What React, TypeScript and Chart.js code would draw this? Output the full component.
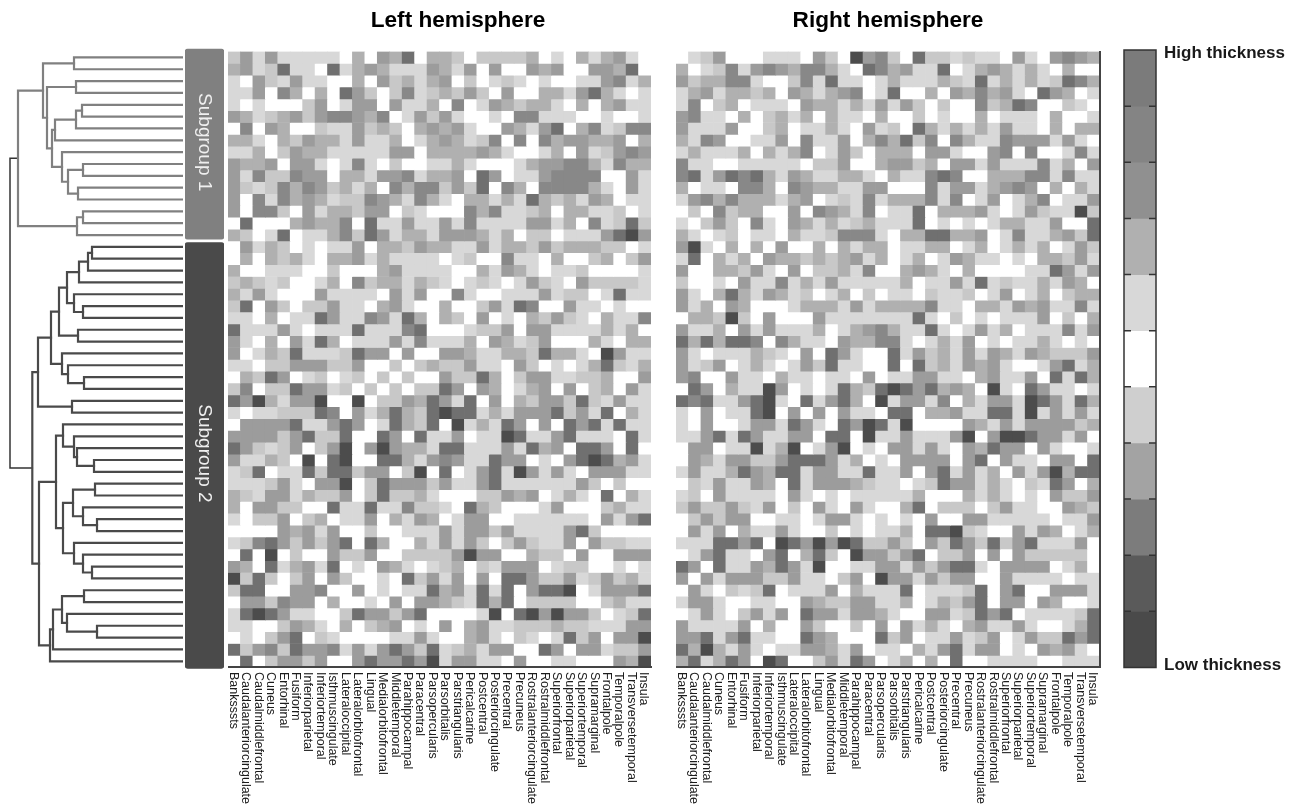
import React, { useEffect, useRef } from "react";
import Chart from "chart.js/auto";

const REGIONS = ["Banksssts","Caudalanteriorcingulate","Caudalmiddlefrontal","Cuneus","Entorhinal","Fusiform","Inferiorparietal","Inferiortemporal","Isthmuscingulate","Lateraloccipital","Lateralorbitofrontal","Lingual","Medialorbitofrontal","Middletemporal","Parahippocampal","Paracentral","Parsopercularis","Parsorbitalis","Parstriangularis","Pericalcarine","Postcentral","Posteriorcingulate","Precentral","Precuneus","Rostralanteriorcingulate","Rostralmiddlefrontal","Superiorfrontal","Superiorparietal","Superiortemporal","Supramarginal","Frontalpole","Temporalpole","Transversetemporal","Insula"];

// Shade index of every cell, one string per subject (row), one digit per region.
const LEFT_ROWS = [
"24141111103043603 32022223010313410","34126110613431114 31404004340044360","10421411003042313 40201210100114513","11405303064202512 32420400331463101",
"10100024014404113 05014323310303411","43123424554350142 41001055111001001","05043002114232034 34100431460351255","33103243314113013 43125050534433403",
"11302433111114403 33343100130412454","43340441015102001 13100013445531533","41522544033144513 34064011455550041","42125354231305355 24260530555531041",
"40515343122543153 10331316323143011","40552041332440210 00535112303311201","06000343350611411 41511114413051262","32016011352641331 44431302201114674",
"04132010114033243 31141332423332201","03032310334131111 01200511030023024","30011100200034111 10031431011200001","23212001305233132 10121014210422221",
"31410004111104140 05100111412201611","26042022411034100 30024165004110100","11030116411541630 32040103242103115","61114101116111560 00122404411113130",
"41030416301114151 11304312400031033","40132611126440400 44311332633107411","11022444224002023 22411042010136213","03264012012020200 42263024411223004",
"25022644120202022 64043013404023041","64731447007022436 41604032442621411","10112226504136326 76613144462416031","04444611464016326 07131640406461611",
"44442462260064061 14011761146111061","64212402470474331 66111416340664060","41132070670066314 54116440104676341","12601162662440270 60146174141044411",
"11124104470264442 41146111111420200","32144132240262231 00022434013106031","30442200611611522 10632000140002311","10224023011403143 01440011111104146",
"00004341400200111 41442411114620000","12564242460630031 41420242114042211","06070200422400222 24744003220400444","43061341601043101 23021444012200101",
"72620240420010624 14040664224124231","26600445004010116 34161604667014446","04425440300104044 32163602222002311","16764110026442460 00017067474420126",
"11002431030234010 40341122232211144","01024602100001141 00341021016240447","62452644514146426 12314400640441224","06024424004644647 14411040011000437",
];
const RIGHT_ROWS = [
"0124000111042074520622121104104543","3012514543553106534116013431310300","4233551002516110131113216131312653","1341332304313450160030435341064301",
"1502301110433131414202005236500210","4511030231303110300201003011103001","4111400230113104120631313141103033","3154001140511403536250531154441410",
"1311130313501420333044100450500151","5110011111022400344230441411151304","5614656314311331031156500333551511","3011055305433114400051441345403031",
"1453533313401215133351501401350114","0205233004054315011603334101421172","1024205104313123111601010133114006","3101201103112555103366334015113426",
"4710303040030313301133013013130142","1603130433232341301301431101033241","4003324104022315003431030000116414","2001041151314111113011416121131430",
"4103631431201302011021120140130233","4130430001333141333351103314341151","0332720400041111111610201011140203","4113041411130134531161014130111514",
"6363665053110433551013140101131010","4101113210406410061423141431432224","4124013101426110060623143410014613","4500411031101104011441103411406163",
"0640311740101632676463430710641101","6561146710614630714415031441764163","1040116704040411066033411661714141","1040014416410647617000043141444423",
"1146164114406607114111470477644140","0440117137014701044141043644041001","0431442246664130104444046041104406","1411364366144116114046141304147366",
"0214114306144432110126441310216403","1204111104101011111300031310104224","2422421402041041003602220241100432","0242440011014410101040044111110114",
"0414031141002010113066721004143013","1116646076474762242042642624611140","0146110460362074424602240404222220","6406114364170011441424661044440130",
"4041444224110240744142440041111011","0410212601114031116011126046004441","1441001100432244113013246044043001","0141024140644144310044126460111126",
"4111140300420020404131034114100136","4461461100643000624011412401422646","6373141011443140110314614401043410","3613640760024164013030600111100111",
];

const SHADES = ["#ffffff","#d8d8d8","#c8c8c8","#b0b0b0","#9c9c9c","#888888","#707070","#4c4c4c"];

const SUBGROUP_NAMES = ["Subgroup 1","Subgroup 2"];
const SUBGROUP_SPANS = [[-0.2,15.86],[16.13,52.1]];
const SUBGROUP_COLORS = ["#808080","#4a4a4a"];

const LEGEND_SHADES = ["#7b7b7b","#848484","#909090","#b0b0b0","#d8d8d8","#ffffff","#cfcfcf","#a3a3a3","#7c7c7c","#5a5a5a","#4a4a4a"];
const LEGEND_LABELS = ["High thickness","Low thickness"];

// Dendrogram: [merge height, child, child]; a child is a row index or another merge.
const TREE_SUB1: any = [165,
  [140,[109,0,1],[136,[107,2,3],[131,[128,[107,[101,4,5],6],7],[121,8,[115,[100,9,10],[105,11,12]]]]]],
  [106,[100,13,14],15]];
const TREE_SUB2: any = [150.7,
  [145,[132,[124,[116,[104,[95,[91,16,17],18],19],[109,20,[100,21,22]]],[105,23,24]],[121,25,[115,26,[99,27,28]]]],[111,29,30]],
  [144,[127,[120,31,[109,32,[106,33,[89,34,35]]]],[120,[110,[88,36,37],[100,38,[86,39,40]]],[109,41,[100,42,[91,43,44]]]]],
    [133,[130,[121,[99,45,46],[116,47,[86,48,49]]],50],51]]];
const ROOT_HEIGHT = 173;

const ROW_COUNT = 52;
const FONT = '"Liberation Sans", Arial, sans-serif';
const TOP = 51.5;
const BOTTOM_PAD = 805 - 667.2;

function addMerges(node: any, color: string, width: number, out: any[]): { y: number; h: number } {
  if (typeof node === "number") return { y: node + 0.5, h: 0 };
  const a = addMerges(node[1], color, width, out);
  const b = addMerges(node[2], color, width, out);
  const h = node[0];
  out.push(pathDataset(a, b, h, color, width));
  return { y: (a.y + b.y) / 2, h };
}
function pathDataset(a: any, b: any, h: number, color: string, width: number) {
  return {
    data: [{ x: a.h, y: a.y }, { x: h, y: a.y }, { x: h, y: b.y }, { x: b.h, y: b.y }],
    borderColor: color, borderWidth: width, showLine: true, pointRadius: 0, tension: 0, fill: false,
    borderCapStyle: "square", borderJoinStyle: "miter",
  };
}

function hiddenAxis(extra: any = {}) {
  return { display: false, ...extra };
}
const rowScale = { type: "linear", min: 0, max: ROW_COUNT, reverse: true };
const baseOptions = {
  responsive: false, animation: false, events: [] as string[],
  plugins: { legend: { display: false }, tooltip: { enabled: false } },
};
const edgeAxis = {
  grid: { display: false, drawTicks: false, tickLength: 0 },
  ticks: { display: false, padding: 0 },
  border: { display: true, color: "#444444", width: 2, z: 1 },
};

function heatConfig(rows: string[], title: string, titleX: number, withRightEdge: boolean, padRight: number): any {
  const datasets = rows.map((text, r) => {
    const digits = text.replace(/\s/g, "").split("").map(Number);
    return {
      data: REGIONS.map(() => [r, r + 1]),
      backgroundColor: REGIONS.map((_, c) => SHADES[digits[c] ?? 0]),
      borderWidth: 0, barPercentage: 1, categoryPercentage: 1, grouped: false,
    };
  });
  return {
    type: "bar",
    data: { labels: REGIONS, datasets },
    options: {
      ...baseOptions,
      layout: { padding: { top: TOP, bottom: BOTTOM_PAD, left: 0, right: padRight } },
      scales: {
        x: { ...edgeAxis },
        y: withRightEdge ? { ...rowScale, ...edgeAxis, position: "right" } : hiddenAxis(rowScale),
      },
    },
    plugins: [{
      id: "heatText",
      afterDraw(chart: any) {
        const { ctx, scales } = chart;
        ctx.save();
        ctx.fillStyle = "#000000";
        ctx.font = `bold 22.6px ${FONT}`;
        ctx.textAlign = "center";
        ctx.textBaseline = "middle";
        ctx.fillText(title, titleX, 21);
        ctx.fillStyle = "#1c1c1c";
        ctx.font = `12.5px ${FONT}`;
        ctx.textAlign = "left";
        REGIONS.forEach((name, i) => {
          ctx.save();
          ctx.translate(scales.x.getPixelForTick(i) - 1, 672);
          ctx.rotate(Math.PI / 2);
          ctx.fillText(name, 0, 0);
          ctx.restore();
        });
        ctx.restore();
      },
    }],
  };
}

function dendrogramConfig(): any {
  const datasets: any[] = [];
  const a = addMerges(TREE_SUB1, "#808080", 2.2, datasets);
  const b = addMerges(TREE_SUB2, "#4a4a4a", 2.2, datasets);
  datasets.push(pathDataset(a, b, ROOT_HEIGHT, "#333333", 1.5));
  return {
    type: "scatter",
    data: { datasets },
    options: {
      ...baseOptions,
      layout: { padding: { top: TOP, bottom: BOTTOM_PAD, left: 0, right: 0 } },
      scales: { x: hiddenAxis({ type: "linear", min: 0, max: 183, reverse: true }), y: hiddenAxis(rowScale) },
    },
  };
}

function subgroupConfig(): any {
  return {
    type: "bar",
    data: {
      labels: ["Subgroup"],
      datasets: SUBGROUP_SPANS.map((span, i) => ({
        data: [span], backgroundColor: SUBGROUP_COLORS[i], barPercentage: 1, categoryPercentage: 1,
        grouped: false, clip: false, borderRadius: 3, borderSkipped: false, borderWidth: 0,
      })),
    },
    options: {
      ...baseOptions,
      layout: { padding: { top: TOP, bottom: BOTTOM_PAD, left: 0, right: 0 } },
      scales: { x: hiddenAxis(), y: hiddenAxis(rowScale) },
    },
    plugins: [{
      id: "subgroupText",
      afterDraw(chart: any) {
        const { ctx, scales, chartArea } = chart;
        ctx.save();
        ctx.fillStyle = "#efefef";
        ctx.font = `19px ${FONT}`;
        ctx.textAlign = "center";
        ctx.textBaseline = "middle";
        SUBGROUP_NAMES.forEach((name, i) => {
          const [s, e] = SUBGROUP_SPANS[i];
          ctx.save();
          ctx.translate((chartArea.left + chartArea.right) / 2, scales.y.getPixelForValue((s + e) / 2) - 2);
          ctx.rotate(Math.PI / 2);
          ctx.fillText(name, 0, 0);
          ctx.restore();
        });
        ctx.restore();
      },
    }],
  };
}

function legendConfig(): any {
  return {
    type: "bar",
    data: {
      labels: ["Thickness"],
      datasets: LEGEND_SHADES.map((shade, i) => ({
        data: [[i, i + 1]], backgroundColor: shade, barPercentage: 1, categoryPercentage: 1, grouped: false, borderWidth: 0,
      })),
    },
    options: {
      ...baseOptions,
      layout: { padding: { top: 50, bottom: 805 - 667.5, left: 14, right: 137 } },
      scales: { x: hiddenAxis(), y: hiddenAxis({ type: "linear", min: 0, max: LEGEND_SHADES.length, reverse: true }) },
    },
    plugins: [{
      id: "legendMarks",
      afterDraw(chart: any) {
        const { ctx, chartArea: a, scales } = chart;
        ctx.save();
        ctx.strokeStyle = "#333333";
        ctx.lineWidth = 1.5;
        ctx.strokeRect(a.left, a.top, a.right - a.left, a.bottom - a.top);
        ctx.beginPath();
        for (let i = 1; i < LEGEND_SHADES.length; i++) {
          const y = scales.y.getPixelForValue(i);
          ctx.moveTo(a.left, y); ctx.lineTo(a.left + 7, y);
          ctx.moveTo(a.right - 7, y); ctx.lineTo(a.right, y);
        }
        ctx.stroke();
        ctx.fillStyle = "#1a1a1a";
        ctx.font = `bold 17px ${FONT}`;
        ctx.textBaseline = "middle";
        ctx.textAlign = "left";
        ctx.fillText(LEGEND_LABELS[0], a.right + 8, 53);
        ctx.fillText(LEGEND_LABELS[1], a.right + 8, 665);
        ctx.restore();
      },
    }],
  };
}

const PANELS = [
  { key: "dendrogram", left: 0, width: 183, make: () => dendrogramConfig() },
  { key: "subgroups", left: 185, width: 39, make: () => subgroupConfig() },
  { key: "left", left: 228, width: 460, make: () => heatConfig(LEFT_ROWS, "Left hemisphere", 230, false, 37) },
  { key: "right", left: 676, width: 426, make: () => heatConfig(RIGHT_ROWS, "Right hemisphere", 212, true, 2) },
  { key: "legend", left: 1110, width: 183, make: () => legendConfig() },
];

export default function App() {
  const refs = useRef<(HTMLCanvasElement | null)[]>([]);
  useEffect(() => {
    const charts = PANELS.map((p, i) => new Chart(refs.current[i] as HTMLCanvasElement, p.make()));
    return () => charts.forEach((c) => c.destroy());
  }, []);
  return (
    <div style={{ position: "absolute", left: 0, top: 0, width: 1293, height: 805, background: "#ffffff", overflow: "hidden" }}>
      {PANELS.map((p, i) => (
        <canvas
          key={p.key}
          ref={(el) => { refs.current[i] = el; }}
          width={p.width}
          height={805}
          style={{ position: "absolute", left: p.left, top: 0, width: p.width, height: 805 }}
        />
      ))}
    </div>
  );
}
